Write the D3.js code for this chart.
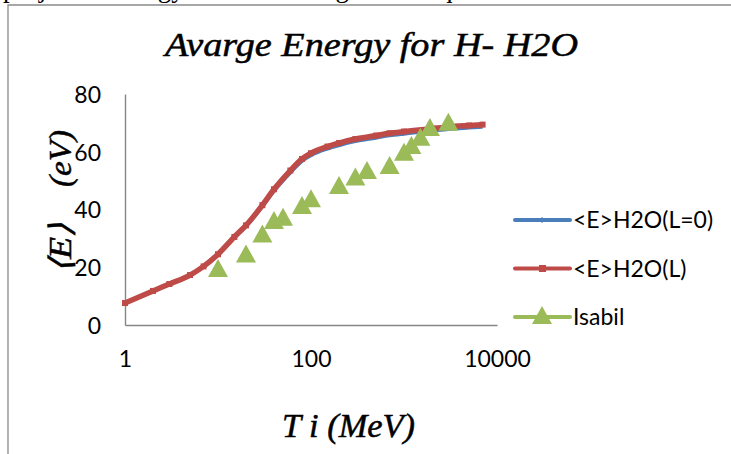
<!DOCTYPE html>
<html>
<head>
<meta charset="utf-8">
<script src="https://cdn.jsdelivr.net/npm/d3@7"></script>
<style>
  html, body { margin: 0; padding: 0; background: #fff; overflow: hidden; }
  svg { display: block; }
</style>
</head>
<body>
<svg id="chart" width="731" height="454"></svg>
<script>
// Incident energy Ti (MeV) for the two calculated curves
const energyT = [1, 2, 3, 5, 7, 10, 15, 20, 30, 40, 60, 80, 100, 150, 200, 300, 500, 700, 1000, 2000, 3000, 5000, 7000];
// <E> for H2O with L = 0 (eV)
const avgEnergyL0 = [7.6, 11.8, 14.2, 17.3, 20.3, 24.3, 30.2, 34.0, 40.8, 46.2, 52.6, 56.6, 58.6, 60.9, 62.1, 63.5, 64.7, 65.5, 66.1, 67.1, 67.7, 68.2, 68.5];
// <E> for H2O with L (eV)
const avgEnergyL = [7.6, 11.8, 14.2, 17.3, 20.3, 24.5, 30.5, 34.5, 41.5, 47.0, 53.5, 57.5, 59.5, 61.8, 63.0, 64.4, 65.6, 66.4, 67.0, 68.0, 68.6, 69.1, 69.4];
// Isabil reference values
const isabilT = [10, 20, 30, 40, 50, 80, 100, 200, 300, 400, 700, 1000, 1200, 1500, 1900, 3000];
const isabilE = [19.7, 24.8, 31.7, 36.4, 37.5, 41.6, 43.9, 48.5, 51.4, 53.7, 55.4, 60.0, 62.3, 65.2, 68.6, 70.4];

const yTicks = [0, 20, 40, 60, 80];
const xTicks = [1, 100, 10000];
const seriesNames = ["<E>H2O(L=0)", "<E>H2O(L)", "Isabil"];
const seriesColors = ["#4A7EBB", "#BE4B48", "#9BBB59"];

const titleText = "Avarge Energy for H- H2O";
const xLabelText = "T i (MeV)";
const captionText = "projectile energy for H ions in gas and liquid water";

const svg = d3.select("#chart");
const labelFont = "Lato, 'Open Sans', sans-serif";
const scriptFont = "'Liberation Serif', 'Times New Roman', serif";

const x = d3.scaleLog().domain([1, 10000]).range([125, 497]);
const y = d3.scaleLinear().domain([0, 80]).range([325, 94]);

// caption line of the surrounding page, mostly above the frame
svg.append("text")
  .attr("x", 3).attr("y", -3.5)
  .attr("font-family", "'Liberation Serif', 'Times New Roman', serif")
  .attr("font-size", 27)
  .attr("fill", "#000")
  .text(captionText);

// chart frame
svg.append("path")
  .attr("d", "M8,454 V5 H731")
  .attr("fill", "none")
  .attr("stroke", "#8a8a8a")
  .attr("stroke-width", 1.3);

// title
svg.append("text")
  .attr("x", 165).attr("y", 56)
  .attr("font-family", scriptFont)
  .attr("font-style", "italic")
  .attr("font-size", 33)
  .attr("stroke", "#000").attr("stroke-width", 0.5)
  .attr("textLength", 413)
  .attr("lengthAdjust", "spacingAndGlyphs")
  .attr("fill", "#000")
  .text(titleText);

// axes
const gx = svg.append("g").attr("transform", `translate(0,${y(0)})`)
  .call(d3.axisBottom(x).tickValues(xTicks).tickSize(0).tickPadding(0).tickFormat(d3.format("d")));
const gy = svg.append("g").attr("transform", `translate(${x(1)},0)`)
  .call(d3.axisLeft(y).tickValues(yTicks).tickSize(0).tickPadding(0));
[gx, gy].forEach(g => {
  g.select(".domain").attr("stroke", "#868686").attr("stroke-width", 1.4);
  g.selectAll("text").attr("font-family", labelFont).attr("font-size", 23).attr("fill", "#000");
});
gx.selectAll("text").attr("dy", null).attr("y", 42);
gy.selectAll("text").attr("x", -24).attr("dy", "0.36em");

// axis titles
svg.append("text")
  .attr("x", 282).attr("y", 437)
  .attr("font-family", scriptFont)
  .attr("font-style", "italic")
  .attr("font-size", 33)
  .attr("stroke", "#000").attr("stroke-width", 0.5)
  .attr("textLength", 133)
  .attr("lengthAdjust", "spacingAndGlyphs")
  .text(xLabelText);

svg.append("text")
  .attr("transform", "translate(71,273) rotate(-90)")
  .attr("font-family", scriptFont)
  .attr("font-style", "italic")
  .attr("font-size", 31)
  .attr("stroke", "#000").attr("stroke-width", 0.5)
  .attr("textLength", 50)
  .attr("lengthAdjust", "spacingAndGlyphs")
  .text("\u27E8E\u27E9");
svg.append("text")
  .attr("transform", "translate(71,187) rotate(-90)")
  .attr("font-family", scriptFont)
  .attr("font-style", "italic")
  .attr("font-size", 31)
  .attr("stroke", "#000").attr("stroke-width", 0.5)
  .attr("textLength", 57)
  .attr("lengthAdjust", "spacingAndGlyphs")
  .text("(eV)");

// curves
const line = d3.line().x(d => x(d[0])).y(d => y(d[1])).curve(d3.curveMonotoneX);
const blueData = energyT.map((t, i) => [t, avgEnergyL0[i]]);
const redData = energyT.map((t, i) => [t, avgEnergyL[i]]);

svg.append("path").datum(blueData)
  .attr("d", line).attr("fill", "none")
  .attr("stroke", seriesColors[0]).attr("stroke-width", 3);

svg.append("path").datum(redData)
  .attr("d", line).attr("fill", "none")
  .attr("stroke", seriesColors[1]).attr("stroke-width", 5.5);
svg.append("g").selectAll("rect").data(redData).join("rect")
  .attr("x", d => x(d[0]) - 3).attr("y", d => y(d[1]) - 3)
  .attr("width", 6).attr("height", 6)
  .attr("fill", seriesColors[1]);

// Isabil triangles
const tri = "M0,-9 L10,9 L-10,9 Z";
svg.append("g").selectAll("path").data(isabilT.map((t, i) => [t, isabilE[i]])).join("path")
  .attr("d", tri)
  .attr("transform", d => `translate(${x(d[0])},${y(d[1])})`)
  .attr("fill", seriesColors[2]);

// legend
const legendY = [220, 268.5, 317];
const lg = svg.append("g");
seriesNames.forEach((name, i) => {
  const g = lg.append("g").attr("transform", `translate(0,${legendY[i]})`);
  g.append("line").attr("x1", 515).attr("x2", 570).attr("y1", 0).attr("y2", 0)
    .attr("stroke", seriesColors[i]).attr("stroke-width", 4).attr("stroke-linecap", "round");
  if (i === 0) {
    g.append("path").attr("d", "M542,-3 L545,0 L542,3 L539,0 Z").attr("fill", seriesColors[0]);
  } else if (i === 1) {
    g.append("rect").attr("x", 539).attr("y", -3.5).attr("width", 7).attr("height", 7).attr("fill", seriesColors[1]);
  } else {
    g.append("path").attr("d", tri).attr("transform", "translate(542,-2)").attr("fill", seriesColors[2]);
  }
  g.append("text").attr("x", 573).attr("y", 0).attr("dy", "0.36em")
    .attr("font-family", labelFont).attr("font-size", 23).attr("fill", "#000")
    .text(name);
});
</script>
</body>
</html>
